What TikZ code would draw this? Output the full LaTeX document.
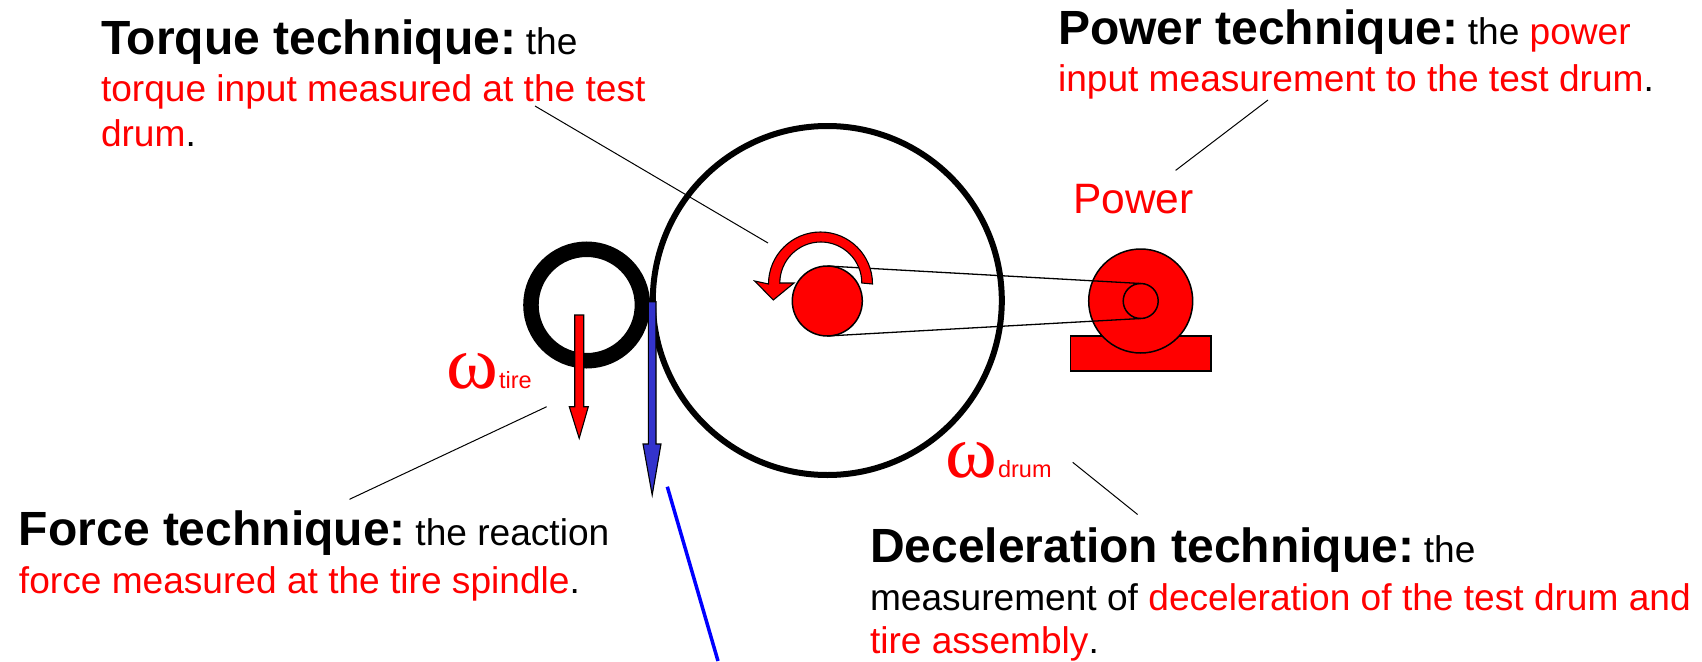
\documentclass[tikz,border=0pt]{standalone}
\usepackage{fontspec}
\setmainfont{Liberation Sans}
\newfontfamily\omegafont{Liberation Serif}
\definecolor{pure}{RGB}{255,0,0}
\definecolor{arrowblue}{RGB}{51,51,204}
\newcommand{\Rd}[1]{\textcolor{pure}{#1}}
\newcommand{\Head}[1]{{\fontsize{48}{48}\selectfont\bfseries #1}\hspace{-4pt}}
\newcommand{\Om}{\scalebox{1.05}[1]{\omegafont\fontsize{75}{75}\selectfont ω}\hspace{1pt}}
\tikzset{
 disc/.style={circle,draw=black,fill=pure,line width=1.5pt,inner sep=0pt,outer sep=0pt},
 hollow/.style={circle,draw=black,inner sep=0pt,outer sep=0pt},
 belt/.style={line width=1.3pt,draw=black},
 leader/.style={line width=1pt,draw=black},
 block/.style={anchor=north west,align=left,inner sep=0pt,outer sep=0pt,font=\fontsize{37.1}{47}\selectfont},
 redarrow/.style={draw=black,fill=pure,line width=1.1pt,line join=miter},
 bluearrow/.style={draw=black,fill=arrowblue,line width=1.1pt,line join=miter},
 omlabel/.style={anchor=base west,inner sep=0pt,text=pure,font=\fontsize{23.5}{24}\selectfont},
}
\begin{document}
\begin{tikzpicture}[x=1pt,y=-1pt]
\useasboundingbox (0,0) rectangle (1702,661);
% base and motor
\node[draw=black,fill=pure,line width=1.5pt,inner sep=0pt,outer sep=0pt,minimum width=140.3pt,minimum height=35.3pt] (base) at (1140.8,353.4) {};
\node[disc,minimum size=104pt] (motor) at (1140.7,301) {};
\node[disc,minimum size=35pt] (pulley) at (1140.7,301) {};
% drum and tire
\node[hollow,line width=6pt,minimum size=349pt] (drum) at (827.3,300.5) {};
\node[hollow,line width=15.5pt,minimum size=111.5pt] (tire) at (586.7,305) {};
\node[disc,minimum size=70pt] (shaft) at (827.3,301) {};
% belts
\draw[belt] (shaft.north) -- (pulley.north);
\draw[belt] (shaft.south) -- (pulley.south);
% curved torque arrow
\draw[redarrow] (872.5,284) arc[start angle=0,end angle=180,radius=52pt]
  -- (754.7,281) -- (773.3,300) -- (794,283) -- (779.8,283)
  arc[start angle=180,end angle=0,radius=41pt] -- cycle;
% force arrows
\draw[redarrow] (574.7,315) -- (583.7,315) -- (583.7,406.7) -- (588.3,406.7) -- (579.2,438.3) -- (569.3,406.7) -- (574.7,406.7) -- cycle;
\draw[bluearrow] (648.3,301.7) -- (656,301.7) -- (656,444) -- (661,444) -- (652.2,495) -- (643,444) -- (648.3,444) -- cycle;
% blue line
\coordinate (blueA) at (667.3,486.7);
\coordinate (blueB) at (718,661);
\draw[blue,line width=3.5pt] (blueA) -- (blueB);
% labels
\node[block] (torque) at (101,19.3) {\Head{Torque technique:} the\\\Rd{torque input measured at the test}\\[-2pt]\Rd{drum}.};
\node[block] (power) at (1058,10) {\Head{Power technique:} the \Rd{power}\\\Rd{input measurement to the test drum}.};
\node[block] (force) at (19,511) {\Head{Force technique:} the reaction\\[1pt]\Rd{force measured at the tire spindle}.};
\node[block] (decel) at (870,527.7) {\Head{Deceleration technique:} the\\[1pt]measurement of \Rd{deceleration of the test drum and}\\[-4pt]\Rd{tire assembly}.};
\node[anchor=base west,inner sep=0pt,text=pure,font=\fontsize{42.5}{42.5}\selectfont] (powerlabel) at (1073,213) {Power};
\node[omlabel] (wtire) at (446,388) {\Om tire};
\node[omlabel] (wdrum) at (945,477.7) {\Om drum};
% leaders
\coordinate (lt1) at (535,106); \coordinate (lt2) at (768,243);
\coordinate (lp1) at (1268,100); \coordinate (lp2) at (1175.6,170.4);
\coordinate (lf1) at (546.7,406.7); \coordinate (lf2) at (349.5,499.3);
\coordinate (ld1) at (1072.7,462.3); \coordinate (ld2) at (1137.6,514.5);
\draw[leader] (lt1) -- (lt2);
\draw[leader] (lp1) -- (lp2);
\draw[leader] (lf1) -- (lf2);
\draw[leader] (ld1) -- (ld2);
\end{tikzpicture}
\end{document}
